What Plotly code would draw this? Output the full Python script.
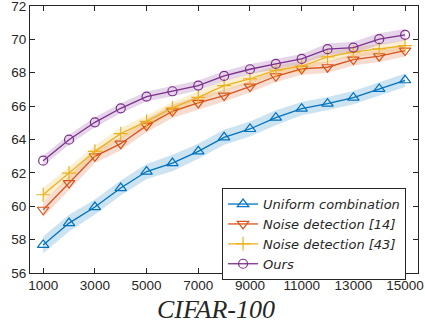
import plotly.graph_objects as go

x_vals = [1000, 2000, 3000, 4000, 5000, 6000, 7000, 8000, 9000, 10000, 11000, 12000, 13000, 14000, 15000]

uniform = [57.68, 58.99, 59.95, 61.09, 62.08, 62.59, 63.29, 64.13, 64.63, 65.31, 65.85, 66.15, 66.51, 67.03, 67.55]
noise14 = [59.79, 61.39, 62.99, 63.75, 64.83, 65.69, 66.19, 66.63, 67.17, 67.79, 68.23, 68.33, 68.79, 68.99, 69.33]
noise43 = [60.69, 61.99, 63.29, 64.35, 65.09, 65.89, 66.53, 67.23, 67.63, 68.15, 68.39, 68.95, 69.23, 69.43, 69.63]
ours = [62.73, 63.99, 65.03, 65.87, 66.57, 66.89, 67.23, 67.81, 68.21, 68.53, 68.83, 69.41, 69.51, 70.01, 70.27]

uniform_band = [0.5, 0.5, 0.45, 0.45, 0.45, 0.5, 0.45, 0.45, 0.45, 0.45, 0.4, 0.4, 0.4, 0.4, 0.4]
noise14_band = [0.45, 0.45, 0.4, 0.4, 0.4, 0.4, 0.4, 0.35, 0.35, 0.35, 0.35, 0.35, 0.35, 0.35, 0.35]
noise43_band = [0.4, 0.4, 0.35, 0.35, 0.35, 0.35, 0.35, 0.3, 0.3, 0.3, 0.3, 0.3, 0.3, 0.3, 0.3]
ours_band = [0.3, 0.3, 0.3, 0.3, 0.3, 0.3, 0.3, 0.3, 0.3, 0.3, 0.3, 0.35, 0.35, 0.35, 0.35]

names = ["Uniform combination", "Noise detection [14]", "Noise detection [43]", "Ours"]
series = [uniform, noise14, noise43, ours]
bands = [uniform_band, noise14_band, noise43_band, ours_band]
colors = ["#0072BD", "#D95319", "#EDB120", "#7E2F8E"]
fills = ["rgba(0,114,189,0.2)", "rgba(217,83,25,0.2)", "rgba(237,177,32,0.2)", "rgba(126,47,142,0.2)"]
symbols = ["triangle-up-open", "triangle-down-open", "cross-thin-open", "circle-open"]
sizes = [10, 10, 10, 9]

x_ticks = [1000, 3000, 5000, 7000, 9000, 11000, 13000, 15000]
y_ticks = [56, 58, 60, 62, 64, 66, 68, 70, 72]
title_text = "CIFAR-100"

fig = go.Figure()

for s, b, fc in zip(series, bands, fills):
    upper = [v + d for v, d in zip(s, b)]
    lower = [v - d for v, d in zip(s, b)]
    fig.add_trace(go.Scatter(
        x=x_vals + x_vals[::-1], y=upper + lower[::-1],
        fill="toself", fillcolor=fc, line=dict(width=0),
        mode="lines", showlegend=False, hoverinfo="skip"))

for name, s, c, sym, sz in zip(names, series, colors, symbols, sizes):
    fig.add_trace(go.Scatter(
        x=x_vals, y=s, name=name, mode="lines+markers",
        line=dict(color=c, width=1.3),
        marker=dict(symbol=sym, size=sz, color=c, line=dict(color=c, width=1.2))))

fig.update_layout(
    width=425, height=329,
    margin=dict(l=30, r=7, t=6, b=56, autoexpand=False),
    paper_bgcolor="white", plot_bgcolor="white",
    font=dict(family="Liberation Sans, Arial, sans-serif", size=13, color="#262626"),
    legend=dict(
        x=0.495, y=0.318, xanchor="left", yanchor="top",
        bgcolor="white", bordercolor="#262626", borderwidth=1,
        font=dict(family="DejaVu Sans, sans-serif", size=13, color="#262626", style="italic"),
        tracegroupgap=0, itemwidth=30),
    showlegend=True,
    annotations=[dict(
        text=title_text, xref="paper", yref="paper", x=0.48, y=-0.138,
        xanchor="center", yanchor="middle", showarrow=False,
        font=dict(family="Liberation Serif, DejaVu Serif, serif", size=26, style="italic", color="#262626"))],
)
fig.update_xaxes(
    range=[490, 15500], tickvals=x_ticks, ticktext=[str(v) for v in x_ticks],
    showline=True, mirror="ticks", linecolor="#262626", linewidth=1,
    ticks="inside", ticklen=5, tickcolor="#262626", showgrid=False, zeroline=False,
    tickfont=dict(size=13.5, color="#262626"), automargin=False, ticklabeloverflow="allow",
)
fig.update_yaxes(
    range=[56, 72], tickvals=y_ticks,
    showline=True, mirror="ticks", linecolor="#262626", linewidth=1,
    ticks="inside", ticklen=5, tickcolor="#262626", showgrid=False, zeroline=False,
    tickfont=dict(size=13.5, color="#262626"), automargin=False, ticklabeloverflow="allow",
)

fig.write_html(
    "out.html",
    config={"displayModeBar": False},
    post_script="document.body.style.margin='0';document.body.style.overflow='hidden';",
)
